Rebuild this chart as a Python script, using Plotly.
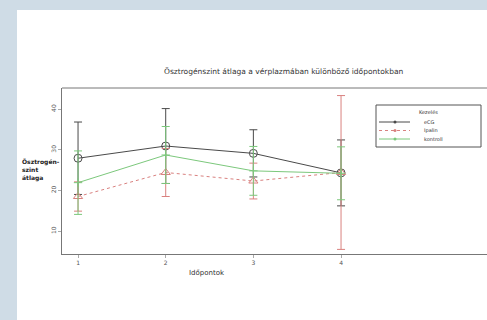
import plotly.graph_objects as go

# Mean plasma oestrogen per treatment group at four sampling times
timepoints = [1, 2, 3, 4]
groups = ["eCG", "Ipalin", "kontroll"]
means = {
    "eCG": [27.9, 30.9, 29.1, 24.3],
    "Ipalin": [18.5, 24.4, 22.3, 24.4],
    "kontroll": [21.9, 28.7, 24.8, 24.2],
}
errors = {
    "eCG": [8.9, 9.2, 5.8, 8.1],
    "Ipalin": [3.6, 5.9, 4.4, 18.9],
    "kontroll": [7.8, 7.0, 6.0, 6.5],
}
y_ticks = [10, 20, 30, 40]

styles = {
    "eCG": dict(color="#4a4a4a", dash="solid", symbol="circle-open", size=8),
    "Ipalin": dict(color="#d9817f", dash="dot", symbol="triangle-up-open", size=8),
    "kontroll": dict(color="#7cc87c", dash="solid", symbol="cross-thin-open", size=6),
}

fig = go.Figure()
for g in groups:
    s = styles[g]
    fig.add_trace(go.Scatter(
        x=timepoints, y=means[g], name=g, mode="lines+markers",
        line=dict(color=s["color"], width=1, dash=s["dash"]),
        marker=dict(symbol=s["symbol"], size=s["size"], color=s["color"],
                    line=dict(color=s["color"], width=1)),
        error_y=dict(type="data", array=errors[g], visible=True,
                     color=s["color"], thickness=1, width=4),
        showlegend=False,
    ))

W, H = 487, 320
ml, mr, mt, mb = 62, 0, 88, 66
pw, ph = W - ml - mr, H - mt - mb


def px(x):
    return (x - ml) / pw


def py(y):
    return (H - mb - y) / ph


shapes = [
    # white page panel behind the chart
    dict(type="rect", xref="paper", yref="paper", layer="below",
         x0=px(17), x1=1.05, y0=py(330), y1=py(10),
         fillcolor="white", line=dict(width=0)),
    # top frame line of the plot area
    dict(type="line", xref="paper", yref="paper",
         x0=0, x1=1, y0=1, y1=1, line=dict(color="#777", width=1)),
    # compact legend box
    dict(type="rect", xref="paper", yref="paper",
         x0=px(376), x1=px(481), y0=py(147), y1=py(105),
         fillcolor="white", line=dict(color="#555", width=1)),
]
annotations = [
    dict(text="Ösztrogénszint átlaga a vérplazmában különböző időpontokban",
         xref="paper", yref="paper", x=px(283), y=py(72),
         showarrow=False, xanchor="center", yanchor="middle",
         font=dict(family="DejaVu Sans", size=7.5, color="#333")),
    dict(text="<b>Ösztrogén-<br>szint<br>átlaga</b>",
         xref="paper", yref="paper", x=px(20), y=py(170),
         showarrow=False, xanchor="left", yanchor="middle", align="left",
         font=dict(family="DejaVu Sans", size=6, color="#222")),
    dict(text="Időpontok",
         xref="paper", yref="paper", x=px(207), y=py(273),
         showarrow=False, xanchor="center", yanchor="middle",
         font=dict(family="DejaVu Sans", size=7, color="#333")),
    dict(text="Kezelés", xref="paper", yref="paper", x=px(428), y=py(111.5),
         showarrow=False, xanchor="center", yanchor="middle",
         font=dict(family="DejaVu Sans", size=5, color="#333")),
]

legend_rows = [122, 130.5, 139]
for g, row in zip(groups, legend_rows):
    s = styles[g]
    shapes.append(dict(type="line", xref="paper", yref="paper",
                       x0=px(379), x1=px(410), y0=py(row), y1=py(row),
                       line=dict(color=s["color"], width=1, dash=s["dash"])))
    shapes.append(dict(type="circle", xref="paper", yref="paper",
                       x0=px(393.5), x1=px(396.5), y0=py(row + 1.5), y1=py(row - 1.5),
                       fillcolor=s["color"], line=dict(color=s["color"], width=0)))
    annotations.append(dict(text=g, xref="paper", yref="paper",
                            x=px(422), y=py(row), showarrow=False,
                            xanchor="left", yanchor="middle",
                            font=dict(family="DejaVu Sans", size=5, color="#333")))

fig.update_layout(
    width=W, height=H,
    margin=dict(l=ml, r=mr, t=mt, b=mb, pad=0),
    paper_bgcolor="#cfdce6",
    plot_bgcolor="white",
    showlegend=False,
    xaxis=dict(
        range=[0.817, 5.665], tickmode="array", tickvals=timepoints,
        ticktext=[str(t) for t in timepoints],
        showgrid=False, zeroline=False, showline=True, linecolor="#777",
        linewidth=1, ticks="outside", ticklen=3, tickcolor="#aaa",
        tickfont=dict(family="DejaVu Sans", size=6, color="#555"),
    ),
    yaxis=dict(
        range=[4.37, 45.16], tickmode="array", tickvals=y_ticks,
        showgrid=False, zeroline=False, showline=True, linecolor="#777",
        linewidth=1, ticks="outside", ticklen=3, tickcolor="#aaa",
        tickangle=-90,
        tickfont=dict(family="DejaVu Sans", size=6, color="#555"),
    ),
    shapes=shapes,
    annotations=annotations,
)

fig.write_html("out.html")
